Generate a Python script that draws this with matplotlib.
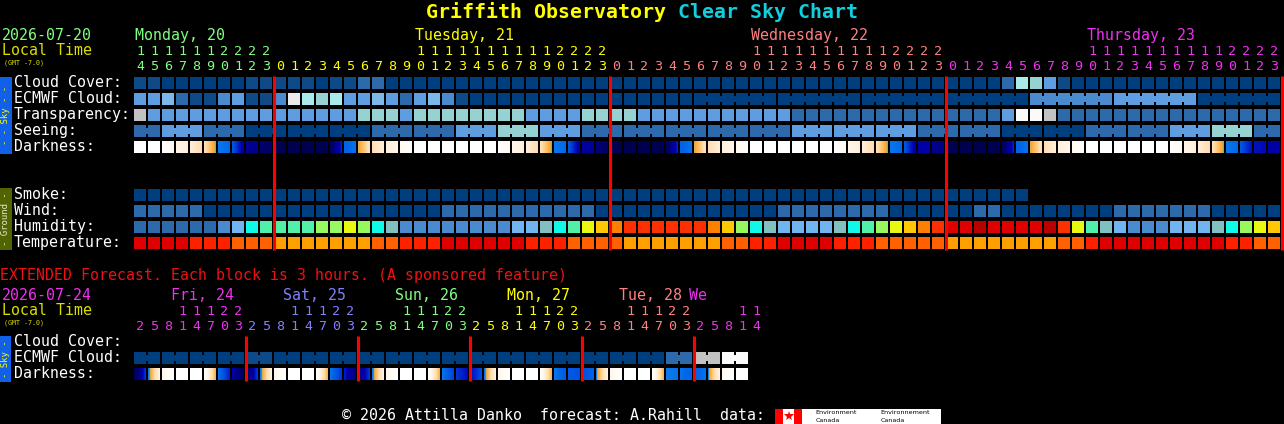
import matplotlib
matplotlib.use("Agg")
import matplotlib.pyplot as plt
from matplotlib.patches import Rectangle
from matplotlib.colors import LinearSegmentedColormap
import numpy as np

# ---------------- data ----------------
title_site = "Griffith Observatory"
title_rest = "Clear Sky Chart"
start_date = "2026-07-20"
day_names = ["Monday, 20", "Tuesday, 21", "Wednesday, 22", "Thursday, 23"]
day_colors = ["#80FF80", "#FFFF00", "#FF8080", "#F030F0"]
hours = ([14, 15, 16, 17, 18, 19, 20, 21, 22, 23]
         + [0, 1, 2, 3, 4, 5, 6, 7, 8, 9, 10, 11, 12, 13, 14, 15, 16, 17, 18, 19, 20, 21, 22, 23]
         + [0, 1, 2, 3, 4, 5, 6, 7, 8, 9, 10, 11, 12, 13, 14, 15, 16, 17, 18, 19, 20, 21, 22, 23]
         + [0, 1, 2, 3, 4, 5, 6, 7, 8, 9, 10, 11, 12, 13, 14, 15, 16, 17, 18, 19, 20, 21, 22, 23])

# sky palette index: 0 clear ... 10 overcast
sky_palette = ["#003F7F", "#0F4A88", "#2C6AAB", "#4A8BCF", "#5E9EE0", "#7DB8EA",
               "#96D2D2", "#AAEAEA", "#C2C2C2", "#EAEAEA", "#FAFAFA"]

cloud_cover = [1, 1, 0, 0, 0, 0, 0, 0, 1, 1, 1, 1, 1, 0, 1, 1, 2, 2,
               0, 0, 0, 0, 0, 0, 0, 0, 0, 0, 0, 0, 0, 0, 0, 0, 0, 0, 0, 0, 0, 0,
               0, 0, 0, 0, 0, 0, 0, 0, 0, 0, 0, 0, 0, 0, 0, 0, 0, 0, 0, 0, 0, 0,
               2, 7, 6, 4, 1,
               0, 0, 0, 0, 0, 0, 0, 0, 0, 0, 0, 0, 0, 0, 0]
ecmwf_cloud = [4, 4, 5, 2, 1, 1, 3, 4, 1, 1, 3, 9, 7, 6, 7, 4, 4, 5, 4, 2, 4, 5, 3, 1,
               0, 0, 0, 0, 0, 0, 0, 0, 0, 0, 0, 0, 0, 0, 0, 0,
               0, 0, 0, 0, 0, 0, 0, 0, 0, 0, 0, 0, 0, 0, 0, 0, 0, 0, 0, 0, 0, 0, 0, 0,
               3, 3, 3, 3, 3, 3, 4, 4, 4, 4, 4, 4, 0, 0, 0, 0, 0, 0]
transparency = [8, 4, 4, 4, 4, 4, 4, 4, 4, 4, 4, 4, 4, 4, 4, 4, 6, 6, 6, 4,
                6, 6, 6, 6, 6, 6, 6, 6, 4, 4, 4, 4, 6, 6, 6, 6,
                4, 4, 4, 4, 4, 4, 4, 4, 4, 4, 4,
                2, 2, 2, 2, 2, 2, 2, 2, 2, 2, 2, 2, 2, 2, 2,
                4, 10, 10, 8,
                2, 2, 2, 2, 2, 2, 2, 2, 2, 2, 2, 2, 2, 2, 2, 2]
# seeing is given per 3-hour block (first block covers 2 hours)
seeing_3h = [2, 4, 2, 0, 0, 0, 2, 2, 4, 6, 4, 2, 2, 2, 2, 2, 4, 4, 4, 2, 2,
             0, 0, 2, 2, 4, 6, 2]
# darkness: value at block start / block end (0 = daylight, 1 = darkest night)
dark_start = [0, 0, 0.0, 0.07, 0.12, 0.18, 0.35, 0.42, 0.72, 0.86, 1, 1, 1, 1, 0.95, 0.40,
              0.31, 0.20, 0.12, 0.05,
              0, 0, 0, 0, 0, 0, 0.0, 0.06, 0.12, 0.18, 0.35, 0.42, 0.68, 0.80, 1, 1, 1, 1,
              0.95, 0.40, 0.31, 0.20, 0.12, 0.05,
              0, 0, 0, 0, 0, 0, 0.0, 0.06, 0.12, 0.18, 0.35, 0.42, 0.64, 0.74, 1, 1, 1, 1,
              0.95, 0.40, 0.31, 0.20, 0.12, 0.05,
              0, 0, 0, 0, 0, 0, 0.0, 0.06, 0.12, 0.18, 0.35, 0.42, 0.58, 0.64]
dark_end = [0, 0, 0.06, 0.12, 0.20, 0.315, 0.38, 0.66, 0.74, 0.90, 1, 1, 1, 1, 0.55, 0.36,
            0.18, 0.12, 0.07, 0.02,
            0, 0, 0, 0, 0, 0, 0.05, 0.12, 0.20, 0.315, 0.38, 0.66, 0.70, 0.90, 1, 1, 1, 1,
            0.55, 0.36, 0.18, 0.12, 0.07, 0.02,
            0, 0, 0, 0, 0, 0, 0.05, 0.12, 0.20, 0.315, 0.38, 0.66, 0.66, 0.76, 1, 1, 1, 1,
            0.55, 0.36, 0.18, 0.12, 0.07, 0.02,
            0, 0, 0, 0, 0, 0, 0.05, 0.12, 0.20, 0.315, 0.38, 0.58, 0.60, 0.66]

smoke = [0] * 64
wind = [2, 2, 2, 2, 2,
        0, 0, 0, 0, 0, 0, 0, 0, 0, 0, 0, 0, 0, 0, 0, 0, 0,
        2, 2, 2, 2, 2, 2, 2, 2, 2, 2, 2,
        0, 0, 0, 0, 0, 0, 0, 0, 0, 0, 0, 0, 0,
        2, 2, 2, 2, 2, 2, 2, 2,
        0, 0, 0, 0, 0, 0,
        2, 2,
        0, 0, 0, 0, 0, 0, 0, 0,
        2, 2, 2, 2, 2, 2, 2,
        0, 0, 0, 0, 0]
humidity_palette = ["#2C6AAB", "#4A8BCF", "#70B4F0", "#80C0C0", "#10F8E8", "#50F0A8",
                    "#98F860", "#E8F810", "#FFC800", "#FF8000", "#FF3000", "#E00000", "#B80000"]
humidity = [0, 0, 0, 0, 0, 0, 1, 2, 4, 5, 5, 5, 5, 6, 6, 7, 6, 4, 3,
            1, 1, 1, 1, 1, 1, 1, 1, 2, 2, 3, 4, 5, 7, 8, 9, 10, 10, 10, 10, 10, 10,
            9, 8, 6, 4, 3, 2, 2, 2, 2, 3, 4, 5, 6, 7, 8, 9, 10,
            11, 11, 12, 11, 11, 11, 11, 12, 10, 7, 5, 3, 2, 1, 1, 1, 2, 2, 2, 3, 4, 6, 7, 8]
temp_palette = ["#FFA000", "#FF6000", "#FF2000", "#E00000"]
temperature = [3, 3, 3, 3, 2, 2, 2, 1, 1, 1, 0, 0, 0, 0, 0, 0, 0, 1, 1, 2, 2, 2,
               3, 3, 3, 3, 3, 3, 2, 2, 2, 1, 1, 1, 1, 0, 0, 0, 0, 0, 0, 0, 1, 1, 2, 2,
               3, 3, 3, 3, 2, 2, 2, 1, 1, 1, 1, 1, 0, 0, 0, 0, 0, 0, 0, 0, 1, 1, 2,
               3, 3, 3, 3, 3, 3, 3, 3, 3, 2, 2, 1, 1]

# extended forecast (3-hour blocks)
ext_date = "2026-07-24"
ext_day_names = ["Fri, 24", "Sat, 25", "Sun, 26", "Mon, 27", "Tue, 28", "We"]
ext_day_colors = ["#F030F0", "#8080FF", "#80FF80", "#FFFF00", "#FF8080", "#F030F0"]
ext_hours = ([2, 5, 8, 11, 14, 17, 20, 23] * 5) + [2, 5, 8, 11, 14]
ext_ecmwf = [0, 0, 0, 0, 0, 0, 0, 0, 1, 1, 0, 0, 0, 0, 0, 0, 0, 0, 0, 0, 0, 0,
             0, 0, 0, 0, 0, 0, 0, 0, 0, 0, 0, 0, 0, 0, 0, 0, 2, 2, 8, 8, 10, 10]
ext_dark_start = [1.0, 0.36, 0.08, 0, 0, 0.0, 0.35, 0.62,
                  0.9, 0.36, 0.08, 0, 0, 0.0, 0.35, 0.55,
                  0.8, 0.36, 0.08, 0, 0, 0.0, 0.35, 0.5,
                  0.6, 0.36, 0.08, 0, 0, 0.0, 0.35, 0.42,
                  0.45, 0.34, 0.08, 0, 0, 0.0, 0.34, 0.36,
                  0.4, 0.34, 0.06, 0]
ext_dark_end = [0.5, 0.10, 0.0, 0, 0, 0.28, 0.55, 0.95,
                0.5, 0.10, 0.0, 0, 0, 0.28, 0.50, 0.8,
                0.5, 0.10, 0.0, 0, 0, 0.28, 0.48, 0.6,
                0.45, 0.10, 0.0, 0, 0, 0.28, 0.42, 0.45,
                0.40, 0.10, 0.0, 0, 0, 0.28, 0.36, 0.40,
                0.36, 0.10, 0.0, 0]

footer = "\u00a9 2026 Attilla Danko  forecast: A.Rahill  data:"

# ---------------- layout / style ----------------
W, H = 1284, 424
MONO = "DejaVu Sans Mono"
X0, PITCH, BW, BH = 134, 14, 12, 12
LBL_FS = 10.75
DIG_FS = 9.6

dark_cmap = LinearSegmentedColormap.from_list("dark", [
    (0.00, "#FFFFFF"), (0.06, "#FFF8EE"), (0.12, "#FFEFD8"), (0.20, "#FFDDB0"),
    (0.27, "#FFB850"), (0.30, "#FFA030"), (0.31, "#20E0F0"), (0.33, "#1080F0"),
    (0.38, "#0068E8"), (0.45, "#0050E0"), (0.55, "#0020C8"), (0.62, "#0000B0"),
    (0.72, "#000094"), (0.85, "#000070"), (1.00, "#000050")])

fig = plt.figure(figsize=(W / 100, H / 100), dpi=100, facecolor="black")
ax = fig.add_axes([0, 0, 1, 1])
ax.set_facecolor("black")
ax.axis("off")


def txt(x, y, s, color, fs=LBL_FS, **kw):
    kw.setdefault("ha", "left")
    kw.setdefault("va", "baseline")
    ax.text(x, y, s, color=color, fontsize=fs, family=MONO, **kw)


def cell(x, y, color, w=BW, h=BH):
    ax.add_patch(Rectangle((x, y), w, h, facecolor=color, edgecolor="none",
                           linewidth=0, antialiased=False))


def draw_row(top, colors, groups=None):
    for i, c in enumerate(colors):
        x = X0 + i * PITCH
        cell(x, top, c)
        if groups is not None and i + 1 < len(colors) and groups[i] == groups[i + 1]:
            cell(x + BW, top + 3, c, w=PITCH - BW, h=6)


def draw_dark(top, starts, ends):
    for i, (s, e) in enumerate(zip(starts, ends)):
        x = X0 + i * PITCH
        grad = np.linspace(s, e, 24)[None, :]
        ax.imshow(grad, cmap=dark_cmap, vmin=0, vmax=1, aspect="auto",
                  interpolation="nearest", extent=(x, x + BW, top + BH, top))


# ---------------- title ----------------
n_all = len(title_site) + 1 + len(title_rest)
tx0 = W / 2 - n_all * 12 / 2
ax.text(tx0, 18, title_site, color="#FFFF00", fontsize=14.3, family=MONO,
        fontweight="bold", ha="left", va="baseline")
ax.text(tx0 + (len(title_site) + 1) * 12, 18, title_rest, color="#10D0E0",
        fontsize=14.3, family=MONO, fontweight="bold", ha="left", va="baseline")

# ---------------- header ----------------
txt(2, 40, start_date, "#80FF80")
txt(2, 55, "Local Time", "#DDDD00")
txt(4, 64, "(GMT -7.0)", "#DDDD00", fs=4.8)

day_idx = []
d = 0
for i, h in enumerate(hours):
    if i > 0 and h < hours[i - 1]:
        d += 1
    day_idx.append(d)

labelled = set()
for i, h in enumerate(hours):
    dd = day_idx[i]
    col = day_colors[dd]
    cx = X0 + i * PITCH + 6
    if dd not in labelled and h >= 10:
        txt(X0 + i * PITCH + 1, 40, day_names[dd], col)
        labelled.add(dd)
    if h >= 10:
        txt(cx, 55, str(h // 10), col, fs=DIG_FS, ha="center")
    txt(cx, 70, str(h % 10), col, fs=DIG_FS, ha="center")

# ---------------- sky rows ----------------
sky_tops = [77, 93, 109, 125, 141]
sky_labels = ["Cloud Cover:", "ECMWF Cloud:", "Transparency:", "Seeing:", "Darkness:"]
for t, lab in zip(sky_tops, sky_labels):
    txt(14, t + 10, lab, "white")

draw_row(sky_tops[0], [sky_palette[v] for v in cloud_cover])
ecmwf_groups = [i if i < 40 else 40 + (i - 40) // 6 for i in range(len(ecmwf_cloud))]
draw_row(sky_tops[1], [sky_palette[v] for v in ecmwf_cloud], ecmwf_groups)
draw_row(sky_tops[2], [sky_palette[v] for v in transparency])
seeing_groups = [(i + 1) // 3 for i in range(len(hours))]
draw_row(sky_tops[3], [sky_palette[seeing_3h[g]] for g in seeing_groups], seeing_groups)
draw_dark(sky_tops[4], dark_start, dark_end)

# side bar sky
cell(0, 77, "#1060E8", w=12, h=77)
ax.text(6, 115.5, "- - Sky - -", color="#FFFF00", fontsize=6.5, family=MONO,
        rotation=90, ha="center", va="center")

# ---------------- ground rows ----------------
gr_tops = [189, 205, 221, 237]
gr_labels = ["Smoke:", "Wind:", "Humidity:", "Temperature:"]
for t, lab in zip(gr_tops, gr_labels):
    txt(14, t + 10, lab, "white")
draw_row(gr_tops[0], [sky_palette[v] for v in smoke])
draw_row(gr_tops[1], [sky_palette[v] for v in wind])
draw_row(gr_tops[2], [humidity_palette[v] for v in humidity])
draw_row(gr_tops[3], [temp_palette[v] for v in temperature])

cell(0, 188, "#506400", w=12, h=62)
ax.text(6, 219, "- Ground -", color="#E8E8D0", fontsize=6.5, family=MONO,
        rotation=90, ha="center", va="center")

# midnight lines
for i in range(1, len(hours) + 1):
    if i == len(hours) or hours[i] < hours[i - 1]:
        x = X0 + i * PITCH
        ax.plot([x, x], [76, 250], color="#FF0000", lw=2.2, solid_capstyle="butt")

# ---------------- extended forecast ----------------
txt(0, 280, "EXTENDED Forecast. Each block is 3 hours. (A sponsored feature)", "#F01010")
txt(2, 300, ext_date, "#F030F0")
txt(2, 315, "Local Time", "#DDDD00")
txt(4, 324, "(GMT -7.0)", "#DDDD00", fs=4.8)

ext_day = []
d = 0
for i, h in enumerate(ext_hours):
    if i > 0 and h < ext_hours[i - 1]:
        d += 1
    ext_day.append(d)

starts = {}
for i, dd in enumerate(ext_day):
    starts.setdefault(dd, i)
for dd, s in starts.items():
    if dd < len(ext_day_names) - 1:
        xl = X0 + (s + (10 - ext_hours[s]) / 3) * PITCH
    else:
        xl = X0 + s * PITCH - 5
    txt(xl, 300, ext_day_names[dd], ext_day_colors[dd])

for i, h in enumerate(ext_hours):
    col = ext_day_colors[ext_day[i]]
    cx = X0 + i * PITCH + 6
    if h >= 10:
        txt(cx, 315, str(h // 10), col, fs=DIG_FS, ha="center")
    txt(cx, 330, str(h % 10), col, fs=DIG_FS, ha="center")

ext_tops = [336, 352, 368]
for t, lab in zip(ext_tops, ["Cloud Cover:", "ECMWF Cloud:", "Darkness:"]):
    txt(14, t + 10.5, lab, "white")
draw_row(ext_tops[1], [sky_palette[v] for v in ext_ecmwf], [i // 2 for i in range(len(ext_ecmwf))])
draw_dark(ext_tops[2], ext_dark_start, ext_dark_end)

cell(0, 336, "#1060E8", w=11, h=46)
ax.text(5.5, 359, "- Sky -", color="#FFFF00", fontsize=6.5, family=MONO,
        rotation=90, ha="center", va="center")

for i in range(1, len(ext_hours)):
    if ext_hours[i] < ext_hours[i - 1]:
        x = X0 + i * PITCH
        ax.plot([x, x], [336, 381], color="#FF0000", lw=2.2, solid_capstyle="butt")

# ---------------- footer ----------------
txt(342, 420, footer, "white")
cell(775, 409, "#FF0000", w=8, h=15)
cell(783, 409, "#FFFFFF", w=11, h=15)
cell(794, 409, "#FF0000", w=8, h=15)
ax.plot([788.5], [416], marker="*", color="#FF0000", markersize=7, markeredgewidth=0)
cell(802, 409, "#FFFFFF", w=139, h=15)
for xx, s in [(815.5, "Environment"), (880.5, "Environnement")]:
    ax.text(xx, 414.5, s, color="black", fontsize=4.6, family="DejaVu Sans", ha="left", va="baseline")
    ax.text(xx, 422, "Canada", color="black", fontsize=4.6, family="DejaVu Sans", ha="left", va="baseline")

ax.set_xlim(0, W)
ax.set_ylim(H, 0)
fig.savefig("out.png", dpi=100, facecolor="black")
